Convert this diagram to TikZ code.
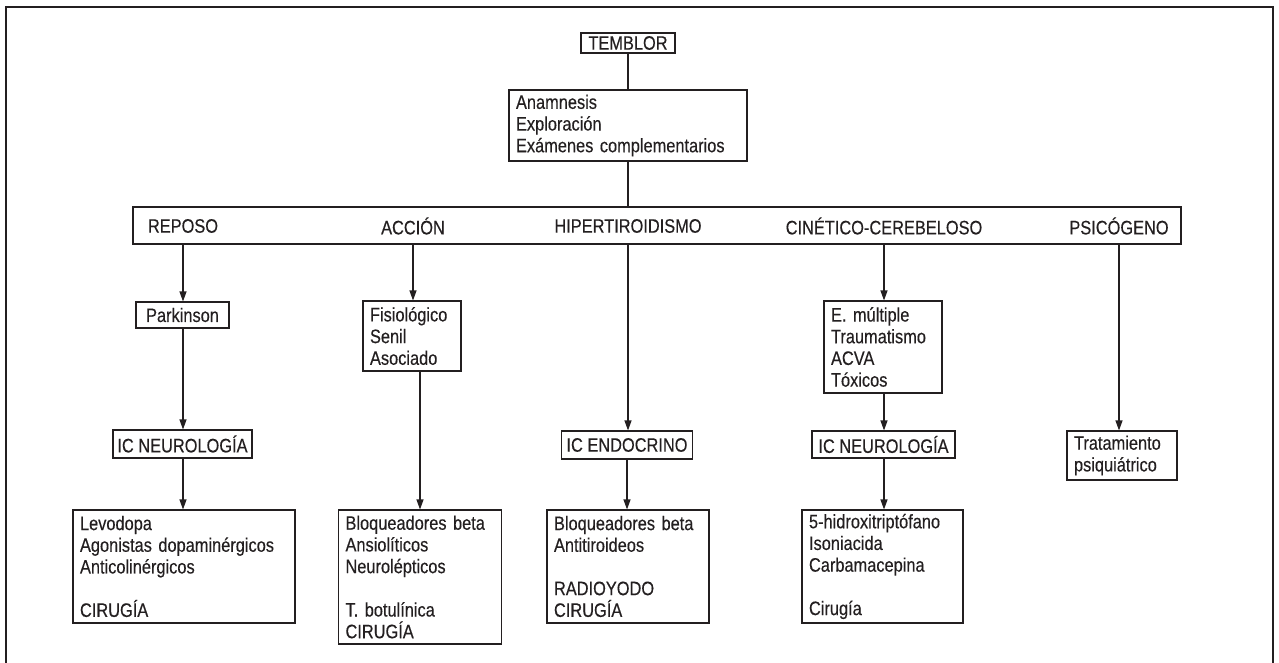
\documentclass[tikz,border=0pt]{standalone}
\usepackage{fontspec}
\setmainfont{Liberation Sans}[FakeStretch=0.84, FakeBold=0.3]
\usetikzlibrary{arrows.meta}
\definecolor{trazo}{RGB}{35, 31, 32}
\tikzset{
    every node/.style={font=\fontsize{19.5}{21.7}\selectfont, text=trazo},
    caja/.style={draw=trazo, line width=1.1pt, inner xsep=4pt, inner ysep=0pt},
    lista/.style={caja, inner xsep=7pt, align=left},
    etiqueta/.style={inner sep=0pt},
    linea/.style={draw=trazo, line width=1.1pt},
    flecha/.style={linea, -{Triangle[length=10pt, width=7pt]}},
}

\begin{document}
\begin{tikzpicture}[x=1pt, y=-1pt]
        \useasboundingbox (0, 0) rectangle (1279, 663);
        \draw[linea] (6, 663) -- (6, 7) -- (1273, 7) -- (1273, 663);
        \node[caja, minimum width=94pt, minimum height=20pt] (temblor) at (628, 43)
            {TEMBLOR};
        \node[lista, text width=224pt, minimum height=71pt] (anam) at (628, 125.5)
            {Anamnesis\\ Exploración\\ Exámenes complementarios};
        \node[caja, minimum width=1048pt, minimum height=37pt] (barra) at (657, 225.5) {};
        \node[etiqueta] (rep) at (183, 226) {REPOSO};
        \node[etiqueta] (acc) at (413, 226) {ACCIÓN};
        \node[etiqueta] (hip) at (628, 226) {HIPERTIROIDISMO};
        \node[etiqueta] (cin) at (884, 226) {CINÉTICO-CEREBELOSO};
        \node[etiqueta] (psi) at (1119, 226) {PSICÓGENO};
        % reposo
        \node[caja, minimum width=93pt, minimum height=26pt] (park) at (182.5, 315)
            {Parkinson};
        \node[caja, minimum width=139pt, minimum height=28pt] (neuro1) at (182.5, 444)
            {IC NEUROLOGÍA};
        \node[lista, text width=208pt, minimum height=113pt] (levo) at (184, 566.5)
            {Levodopa\\ Agonistas dopaminérgicos\\ Anticolinérgicos\\[\baselineskip]
            CIRUGÍA};
        % accion
        \node[lista, text width=84pt, minimum height=70pt] (fisio) at (412, 336)
            {Fisiológico\\ Senil\\ Asociado};
        \node[lista, text width=149pt, minimum height=134pt] (bloq1) at (420, 577)
            {Bloqueadores beta\\ Ansiolíticos\\ Neurolépticos\\[\baselineskip]
            T. botulínica\\ CIRUGÍA};
        % hipertiroidismo
        \node[caja, minimum width=131pt, minimum height=28pt] (endo) at (627, 445)
            {IC ENDOCRINO};
        \node[lista, text width=148pt, minimum height=113pt] (bloq2) at (628, 566.5)
            {Bloqueadores beta\\ Antitiroideos\\[\baselineskip] RADIOYODO\\ CIRUGÍA};
        % cinetico
        \node[lista, text width=104pt, minimum height=92pt] (emult) at (883, 347)
            {E. múltiple\\ Traumatismo\\ ACVA\\ Tóxicos};
        \node[caja, minimum width=143pt, minimum height=27pt] (neuro2) at (883.5, 444.5)
            {IC NEUROLOGÍA};
        \node[lista, text width=147pt, minimum height=113pt] (hidro) at (882.5, 566.5)
            {5-hidroxitriptófano\\ Isoniacida\\ Carbamacepina\\[\baselineskip] Cirugía};
        % psicogeno
        \node[lista, text width=96pt, minimum height=49pt] (trat) at (1122, 455.5)
            {Tratamiento\\ psiquiátrico};
        \draw[linea] (temblor) -- (anam);
        \draw[linea] (anam.south) -- (anam.south |- barra.north);
        \draw[flecha] (rep |- barra.south) -- (rep |- park.north);
        \draw[flecha] (rep |- park.south) -- (rep |- neuro1.north);
        \draw[flecha] (rep |- neuro1.south) -- (rep |- levo.north);
        \draw[flecha] (acc |- barra.south) -- (acc |- fisio.north);
        \draw[flecha] (bloq1.north |- fisio.south) -- (bloq1.north);
        \draw[flecha] (hip |- barra.south) -- (hip |- endo.north);
        \draw[flecha] (endo.south) -- (endo.south |- bloq2.north);
        \draw[flecha] (cin |- barra.south) -- (cin |- emult.north);
        \draw[flecha] (cin |- emult.south) -- (cin |- neuro2.north);
        \draw[flecha] (cin |- neuro2.south) -- (cin |- hidro.north);
        \draw[flecha] (psi |- barra.south) -- (psi |- trat.north);
    \end{tikzpicture}
\end{document}
